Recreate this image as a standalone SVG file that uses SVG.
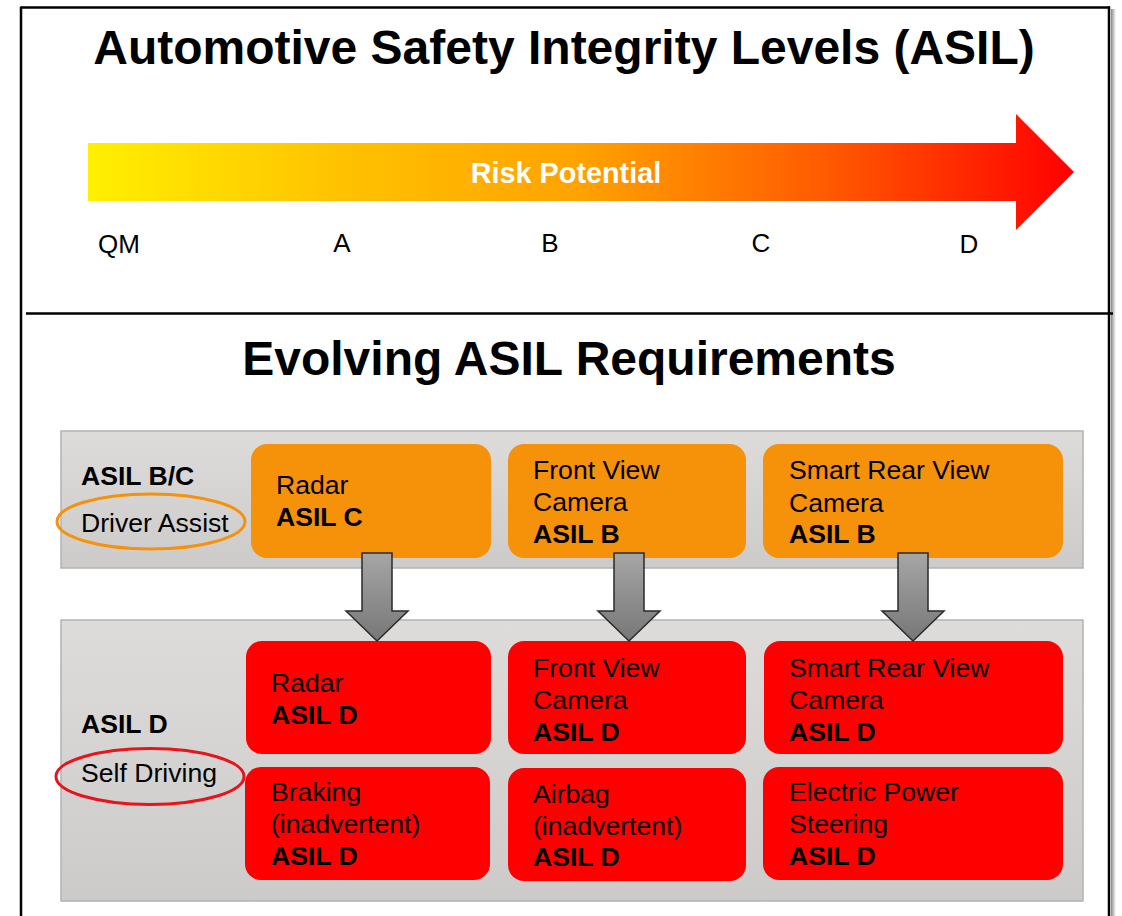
<svg xmlns="http://www.w3.org/2000/svg" width="1122" height="916" viewBox="0 0 1122 916">
  <defs>
    <linearGradient id="riskGrad" x1="88" y1="0" x2="1074" y2="0" gradientUnits="userSpaceOnUse">
      <stop offset="0" stop-color="#FFF000"/>
      <stop offset="0.25" stop-color="#FFC300"/>
      <stop offset="0.5" stop-color="#FFA200"/>
      <stop offset="0.75" stop-color="#FF5A00"/>
      <stop offset="1" stop-color="#FF0000"/>
    </linearGradient>
    <linearGradient id="bandGrad" x1="0" y1="0" x2="0" y2="1">
      <stop offset="0" stop-color="#DDDCDB"/>
      <stop offset="1" stop-color="#CCCBCA"/>
    </linearGradient>
    <linearGradient id="downGrad" x1="0" y1="0" x2="0" y2="1">
      <stop offset="0" stop-color="#A6A6A6"/>
      <stop offset="1" stop-color="#777777"/>
    </linearGradient>
    <linearGradient id="shadowGrad" x1="0" y1="0" x2="1" y2="0">
      <stop offset="0" stop-color="#888888"/>
      <stop offset="1" stop-color="#FFFFFF"/>
    </linearGradient>
  </defs>
  <style>
    text { font-family: "Liberation Sans", Arial, sans-serif; fill: #000; }
    .title { font-size: 48px; font-weight: bold; }
    .lvl { font-size: 26px; }
    .lbl { font-size: 26.6px; }
    .b { font-weight: bold; }
    .band { fill: url(#bandGrad); stroke: #B3B3B3; stroke-width: 1.5; }
    .orange { fill: #F5920A; }
    .red { fill: #FF0000; }
    .down { fill: url(#downGrad); stroke: #2A2A2A; stroke-width: 1.5; stroke-linejoin: miter; }
  </style>
  <rect width="1122" height="916" fill="#FFFFFF"/>

  <!-- frame -->
  <g id="frame">
    <rect x="1111" y="9" width="5" height="907" fill="url(#shadowGrad)"/>
    <line x1="21" y1="7.5" x2="1110" y2="7.5" stroke="#000" stroke-width="2.5"/>
    <line x1="21" y1="6.5" x2="21" y2="916" stroke="#000" stroke-width="2.5"/>
    <line x1="1109" y1="6.5" x2="1109" y2="916" stroke="#000" stroke-width="2.5"/>
    <line x1="26" y1="313.5" x2="1113" y2="313.5" stroke="#000" stroke-width="2.5"/>
  </g>

  <!-- top section -->
  <g id="title1">
    <text class="title" x="564" y="64" text-anchor="middle">Automotive Safety Integrity Levels (ASIL)</text>
  </g>
  <g id="risk-arrow">
    <polygon points="88,143 1016,143 1016,114 1074,172 1016,230 1016,201 88,201" fill="url(#riskGrad)"/>
    <text x="566" y="183" text-anchor="middle" font-size="28.8" font-weight="bold" style="fill:#FFFFFF">Risk Potential</text>
  </g>
  <g id="levels">
    <text class="lvl" x="119" y="253" text-anchor="middle">QM</text>
    <text class="lvl" x="342" y="252" text-anchor="middle">A</text>
    <text class="lvl" x="550" y="252" text-anchor="middle">B</text>
    <text class="lvl" x="761" y="252" text-anchor="middle">C</text>
    <text class="lvl" x="969" y="253" text-anchor="middle">D</text>
  </g>

  <!-- bottom section -->
  <g id="title2">
    <text class="title" x="569" y="375" text-anchor="middle">Evolving ASIL Requirements</text>
  </g>

  <g id="band-driver-assist">
    <rect class="band" x="61" y="431" width="1022" height="137"/>
    <text class="lbl b" x="81" y="485">ASIL B/C</text>
    <text class="lbl" x="81" y="532">Driver Assist</text>
    <ellipse cx="151" cy="521.5" rx="94" ry="27.5" fill="none" stroke="#F5920A" stroke-width="3"/>
  </g>

  <g id="band-self-driving">
    <rect class="band" x="61" y="620" width="1022" height="281"/>
    <text class="lbl b" x="81" y="733">ASIL D</text>
    <text class="lbl" x="81" y="782">Self Driving</text>
    <ellipse cx="150" cy="776.5" rx="94" ry="28" fill="none" stroke="#E8141B" stroke-width="3"/>
  </g>

  <g id="node-radar-c">
    <rect class="orange" x="251" y="444" width="240" height="114" rx="16"/>
    <text class="lbl" x="276" y="494">Radar</text>
    <text class="lbl b" x="276" y="526">ASIL C</text>
  </g>
  <g id="node-fvc-b">
    <rect class="orange" x="508" y="444" width="238" height="114" rx="16"/>
    <text class="lbl" x="533" y="479">Front View</text>
    <text class="lbl" x="533" y="511">Camera</text>
    <text class="lbl b" x="533" y="543">ASIL B</text>
  </g>
  <g id="node-srvc-b">
    <rect class="orange" x="763" y="444" width="300" height="114" rx="16"/>
    <text class="lbl" x="789" y="479">Smart Rear View</text>
    <text class="lbl" x="789" y="512">Camera</text>
    <text class="lbl b" x="789" y="543">ASIL B</text>
  </g>

  <g id="node-radar-d">
    <rect class="red" x="246" y="641" width="245" height="113" rx="16"/>
    <text class="lbl" x="271" y="692">Radar</text>
    <text class="lbl b" x="271" y="724">ASIL D</text>
  </g>
  <g id="node-fvc-d">
    <rect class="red" x="508" y="641" width="238" height="113" rx="16"/>
    <text class="lbl" x="533" y="677">Front View</text>
    <text class="lbl" x="533" y="709">Camera</text>
    <text class="lbl b" x="533" y="741">ASIL D</text>
  </g>
  <g id="node-srvc-d">
    <rect class="red" x="764" y="641" width="299" height="113" rx="16"/>
    <text class="lbl" x="789" y="677">Smart Rear View</text>
    <text class="lbl" x="789" y="709">Camera</text>
    <text class="lbl b" x="789" y="741">ASIL D</text>
  </g>
  <g id="node-braking">
    <rect class="red" x="245" y="767" width="245" height="113" rx="16"/>
    <text class="lbl" x="271" y="801">Braking</text>
    <text class="lbl" x="271" y="833">(inadvertent)</text>
    <text class="lbl b" x="271" y="865">ASIL D</text>
  </g>
  <g id="node-airbag">
    <rect class="red" x="508" y="768" width="238" height="113" rx="16"/>
    <text class="lbl" x="533" y="803">Airbag</text>
    <text class="lbl" x="533" y="835">(inadvertent)</text>
    <text class="lbl b" x="533" y="866">ASIL D</text>
  </g>
  <g id="node-eps">
    <rect class="red" x="763" y="767" width="300" height="113" rx="16"/>
    <text class="lbl" x="789" y="801">Electric Power</text>
    <text class="lbl" x="789" y="833">Steering</text>
    <text class="lbl b" x="789" y="865">ASIL D</text>
  </g>

  <!-- connectors -->
  <g id="connectors">
    <polygon class="down" points="362,553 392,553 392,611 408,611 377,641 346,611 362,611"/>
    <polygon class="down" points="614,553 644,553 644,611 660,611 629,641 598,611 614,611"/>
    <polygon class="down" points="898,553 928,553 928,611 944,611 913,641 882,611 898,611"/>
  </g>
</svg>
